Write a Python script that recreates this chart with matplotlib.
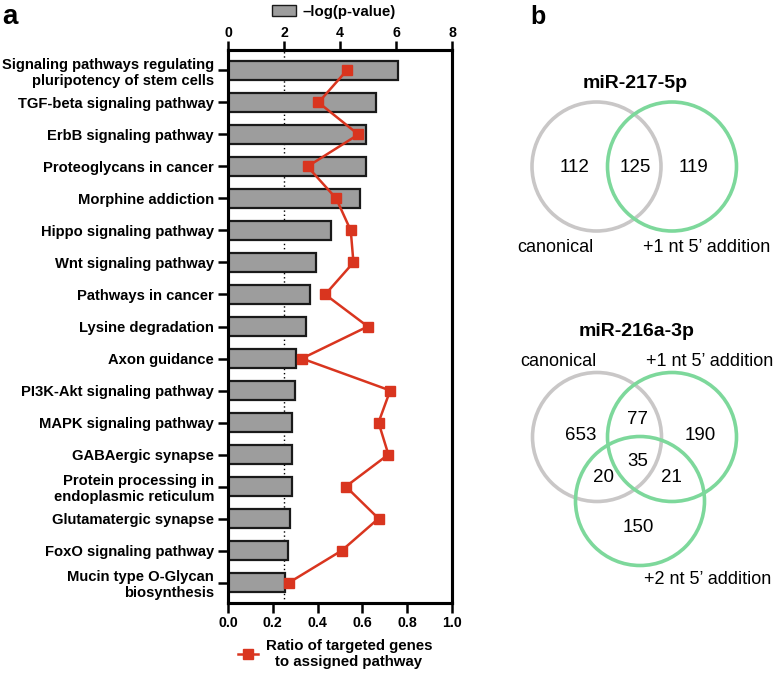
import matplotlib
matplotlib.use('Agg')
import matplotlib.pyplot as plt
from matplotlib.patches import Circle, Patch
from matplotlib.lines import Line2D

plt.rcParams['font.family'] = ['Liberation Sans', 'DejaVu Sans']

# ---------------- data ----------------
pathways = [
    'Signaling pathways regulating\npluripotency of stem cells',
    'TGF-beta signaling pathway',
    'ErbB signaling pathway',
    'Proteoglycans in cancer',
    'Morphine addiction',
    'Hippo signaling pathway',
    'Wnt signaling pathway',
    'Pathways in cancer',
    'Lysine degradation',
    'Axon guidance',
    'PI3K-Akt signaling pathway',
    'MAPK signaling pathway',
    'GABAergic synapse',
    'Protein processing in\nendoplasmic reticulum',
    'Glutamatergic synapse',
    'FoxO signaling pathway',
    'Mucin type O-Glycan\nbiosynthesis',
]
neg_log_p = [6.06, 5.29, 4.94, 4.94, 4.73, 3.69, 3.16, 2.94, 2.80,
             2.42, 2.40, 2.29, 2.27, 2.27, 2.22, 2.15, 2.05]
ratio = [0.530, 0.404, 0.582, 0.355, 0.483, 0.548, 0.560, 0.434, 0.624,
         0.330, 0.724, 0.672, 0.716, 0.526, 0.672, 0.508, 0.273]
bar_ticks = [0, 2, 4, 6, 8]
ratio_ticks = [0.0, 0.2, 0.4, 0.6, 0.8, 1.0]
threshold = 2
bar_label = '\u2013log(p-value)'
ratio_label = 'Ratio of targeted genes\nto assigned pathway'

venn1_title = 'miR-217-5p'
venn1_sets = ['canonical', '+1 nt 5\u2019 addition']
venn1_counts = [112, 125, 119]          # only A, A&B, only B

venn2_title = 'miR-216a-3p'
venn2_sets = ['canonical', '+1 nt 5\u2019 addition', '+2 nt 5\u2019 addition']
venn2_regions = ['100', '110', '010', '111', '101', '011', '001']
venn2_counts = [653, 77, 190, 35, 20, 21, 150]

# ---------------- style ----------------
BAR_C = '#9d9d9d'
RED = '#d9351f'
GRAY_C = '#c9c7c7'
GREEN_C = '#7dd89b'
W, H = 776, 673

fig = plt.figure(figsize=(W / 100, H / 100), dpi=100)

# ---------------- panel a ----------------
ax = fig.add_axes([228 / W, 1 - 603 / H, 224 / W, 553 / H])
ax2 = ax.twiny()
ypos = list(range(len(pathways)))

# bars (top scale)
ax.axvline(threshold, color='black', ls=(0, (1, 2)), lw=1.0, zorder=0.5)
ax.barh(ypos, neg_log_p, height=0.62, color=BAR_C, edgecolor='#1a1a1a',
        linewidth=1.6, zorder=2, label=bar_label)
ax.set_xlim(bar_ticks[0], bar_ticks[-1])
ax.set_ylim(len(pathways) - 1 + 0.64, -0.64)
ax.set_yticks(ypos)
ax.set_yticklabels(pathways, fontsize=10.6, fontweight='bold')
ax.xaxis.tick_top()
ax.xaxis.set_label_position('top')
ax.set_xticks(bar_ticks)
ax.set_xticklabels([str(t) for t in bar_ticks], fontsize=10.2, fontweight='bold')
ax.tick_params(axis='x', direction='out', length=6.5, width=1.8, pad=1)
ax.tick_params(axis='y', direction='out', length=7, width=1.8, pad=3)
for s in ax.spines.values():
    s.set_linewidth(2.2)

# ratio line (bottom scale)
ax2.plot(ratio, ypos, color=RED, lw=1.8, marker='s', markersize=7,
         zorder=5, label=ratio_label)
ax2.set_xlim(ratio_ticks[0], ratio_ticks[-1])
ax2.xaxis.tick_bottom()
ax2.xaxis.set_label_position('bottom')
ax2.set_xticks(ratio_ticks)
ax2.set_xticklabels([f'{t:.1f}' for t in ratio_ticks], fontsize=10.2,
                    fontweight='bold')
ax2.tick_params(axis='x', direction='out', length=7, width=1.8, pad=2.5)
for s in ax2.spines.values():
    s.set_linewidth(2.2)
ax2.set_ylim(ax.get_ylim())

leg1 = fig.legend(handles=[Patch(facecolor=BAR_C, edgecolor='#1a1a1a', linewidth=1.0)],
                  labels=[bar_label], loc='center left',
                  bbox_to_anchor=(272 / W, 1 - 12 / H), frameon=False,
                  borderpad=0, borderaxespad=0, handlelength=1.6, handleheight=0.75,
                  handletextpad=0.45, prop={'size': 10.8, 'weight': 'bold'})
leg2 = fig.legend(handles=[Line2D([0], [0], color=RED, lw=1.8, marker='s', markersize=7)],
                  labels=[ratio_label], loc='center left',
                  bbox_to_anchor=(238 / W, 1 - 654 / H), frameon=False,
                  borderpad=0, borderaxespad=0, handlelength=1.35,
                  handletextpad=0.5, prop={'size': 10.8, 'weight': 'bold'})
for t in leg2.get_texts():
    t.set_multialignment('center')

fig.text(2 / W, 1 - 17 / H, 'a', fontsize=20, fontweight='bold', ha='left', va='center')
fig.text(530 / W, 1 - 17 / H, 'b', fontsize=18, fontweight='bold', ha='left', va='center')

# ---------------- panel b (Venn diagrams) ----------------
vax = fig.add_axes([480 / W, 0, (W - 480) / W, 1])
vax.set_xlim(480, W)
vax.set_ylim(H, 0)
vax.axis('off')

R = 64.5
NUM_FS = 13.5
LAB_FS = 13
TITLE_FS = 14

# Venn 1 layout
v1_centers = [(596.5, 166.5), (672, 166.5)]
v1_colors = [GRAY_C, GREEN_C]
for (cx, cy), col in zip(v1_centers, v1_colors):
    vax.add_patch(Circle((cx, cy), R, fill=False, ec=col, lw=2.6))
vax.text(635, 83, venn1_title, fontsize=TITLE_FS, fontweight='bold', ha='center', va='center')
v1_num_pos = [(575, 168), (635, 168), (694, 168)]
for (x, y), n in zip(v1_num_pos, venn1_counts):
    vax.text(x, y, str(n), fontsize=NUM_FS, ha='center', va='center')
vax.text(555, 248, venn1_sets[0], fontsize=LAB_FS, ha='center', va='center')
vax.text(707, 248, venn1_sets[1], fontsize=LAB_FS, ha='center', va='center')

# Venn 2 layout
v2_centers = [(597, 437), (672, 437), (640, 501)]
v2_colors = [GRAY_C, GREEN_C, GREEN_C]
for (cx, cy), col in zip(v2_centers, v2_colors):
    vax.add_patch(Circle((cx, cy), R, fill=False, ec=col, lw=2.6))
vax.text(637, 332, venn2_title, fontsize=TITLE_FS, fontweight='bold', ha='center', va='center')
v2_num_pos = {'100': (581, 435), '110': (638, 419), '010': (700, 435),
              '111': (638, 462), '101': (603, 478), '011': (671, 478),
              '001': (638, 527)}
for reg, n in zip(venn2_regions, venn2_counts):
    x, y = v2_num_pos[reg]
    vax.text(x, y, str(n), fontsize=NUM_FS, ha='center', va='center')
vax.text(558, 362, venn2_sets[0], fontsize=LAB_FS, ha='center', va='center')
vax.text(710, 362, venn2_sets[1], fontsize=LAB_FS, ha='center', va='center')
vax.text(708, 580, venn2_sets[2], fontsize=LAB_FS, ha='center', va='center')

fig.savefig('out.png', dpi=100)
